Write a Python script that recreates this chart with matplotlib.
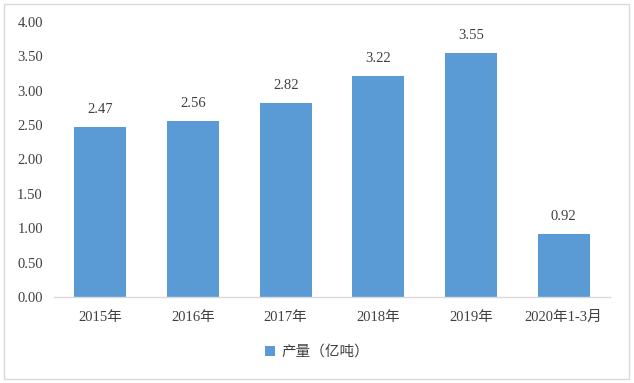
import matplotlib
matplotlib.use("Agg")
import matplotlib.pyplot as plt
from matplotlib.patches import Rectangle

categories = ["2015年", "2016年", "2017年", "2018年", "2019年", "2020年1-3月"]
values = [2.47, 2.56, 2.82, 3.22, 3.55, 0.92]
series_name = "产量（亿吨）"
yticks = [0.0, 0.5, 1.0, 1.5, 2.0, 2.5, 3.0, 3.5, 4.0]

fam = ["Liberation Serif", "Noto Sans CJK SC"]
plt.rcParams["font.family"] = fam
txt = "#404040"
bar_color = "#5B9BD5"

fig = plt.figure(figsize=(6.34, 3.83), dpi=100)
ax = fig.add_axes([54/634, 1-297/383, 556/634, 275/383])

x = list(range(len(categories)))
bars = ax.bar(x, values, width=0.56, color=bar_color, label=series_name, zorder=2)
for xi, v in zip(x, values):
    ax.annotate(f"{v:.2f}", (xi, v), xytext=(0, 8), textcoords="offset points",
                ha="center", va="bottom", fontsize=10.5, color=txt)

ax.set_xlim(-0.5, len(categories)-0.5)
ax.set_ylim(0, 4)
ax.set_yticks(yticks)
ax.set_yticklabels([f"{t:.2f}" for t in yticks])
ax.set_xticks(x)
ax.set_xticklabels(categories)
ax.tick_params(axis="both", length=0, labelsize=10.5, labelcolor=txt)
ax.tick_params(axis="y", pad=8)
ax.tick_params(axis="x", pad=10)
for s in ["top", "right", "left"]:
    ax.spines[s].set_visible(False)
ax.spines["bottom"].set_color("#d9d9d9")
ax.spines["bottom"].set_linewidth(1)

leg = fig.legend(handles=[bars], labels=[series_name], loc="center",
                 bbox_to_anchor=(0.5, 1-352/383), frameon=False,
                 fontsize=10.5, handlelength=0.7, handleheight=0.7,
                 handletextpad=0.4)
for t in leg.get_texts():
    t.set_color(txt)

fig.patches.append(Rectangle((4/634, 1-379/383), 625/634, 375/383,
                             transform=fig.transFigure, fill=False,
                             edgecolor="#d9d9d9", linewidth=1))
fig.savefig("out.png", dpi=100)
